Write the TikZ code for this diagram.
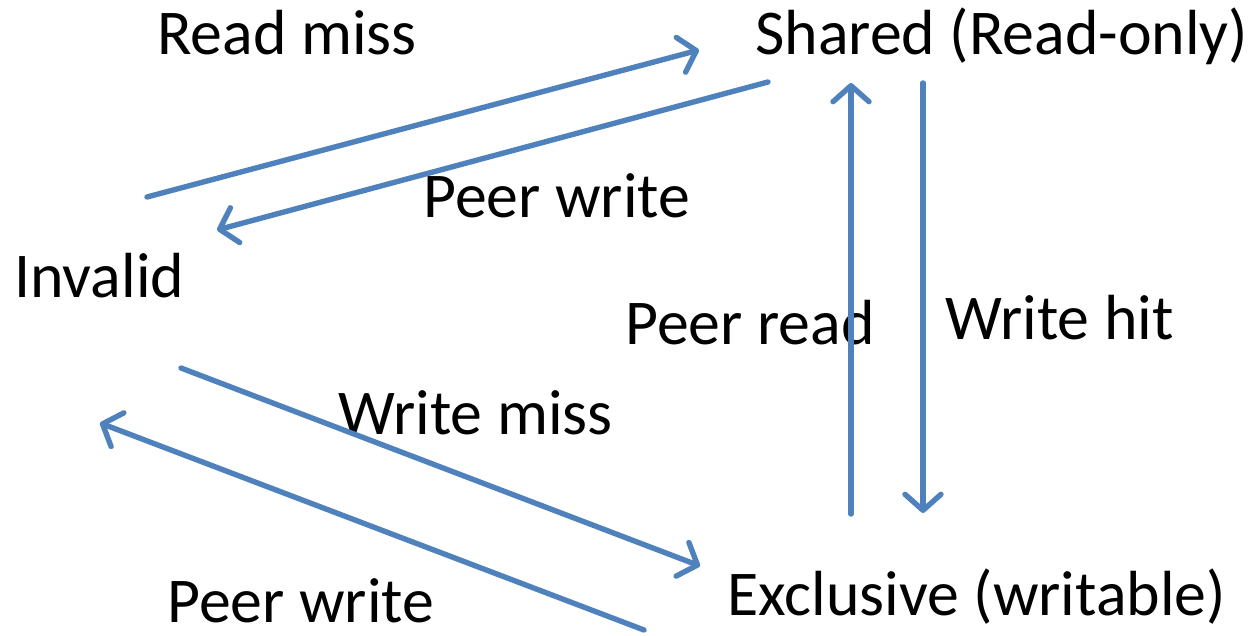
\documentclass[tikz,border=0pt]{standalone}
\usepackage{fontspec}
\setmainfont{Carlito}
\usetikzlibrary{arrows.meta}
\definecolor{officeblue}{HTML}{4F81BD}
\tikzset{
  lbl/.style={anchor=base west, inner sep=0pt, font=\fontsize{31.9}{38}\selectfont},
  conn/.style={draw=officeblue, line width=2.7pt, line cap=round,
    -{Straight Barb[length=8pt,width=18pt,line cap=round,line join=round]}}
}
\begin{document}
\begin{tikzpicture}[x=0.5pt,y=-0.5pt]
\useasboundingbox (0,0) rectangle (1254,636);
% labels
\node[lbl] (readmiss) at (157,55) {Read miss};
\node[lbl] (shared) at (755,55) {Shared (Read-only)};
\node[lbl] (peerwriteA) at (423,218) {Peer write};
\node[lbl] (invalid) at (14,298) {Invalid};
\node[lbl] (peerread) at (625,345) {Peer read};
\node[lbl] (writehit) at (945,340) {Write hit};
\node[lbl] (writemiss) at (338,435) {Write miss};
\node[lbl] (peerwriteB) at (167,622) {Peer write};
\node[lbl] (exclusive) at (727,615) {Exclusive (writable)};
% endpoints
\coordinate (a1) at (147,197); \coordinate (a2) at (699,50);
\coordinate (b1) at (768,82);  \coordinate (b2) at (217,230);
\coordinate (c1) at (851,514); \coordinate (c2) at (851,83);
\coordinate (d1) at (923,83);  \coordinate (d2) at (923,513);
\coordinate (e1) at (181,368); \coordinate (e2) at (700,566);
\coordinate (f1) at (644,630); \coordinate (f2) at (100,423);
% connectors
\draw[conn] (a1) -- (a2);
\draw[conn] (b1) -- (b2);
\draw[conn] (c1) -- (c2);
\draw[conn] (d1) -- (d2);
\draw[conn] (e1) -- (e2);
\draw[conn] (f1) -- (f2);
\end{tikzpicture}
\end{document}
